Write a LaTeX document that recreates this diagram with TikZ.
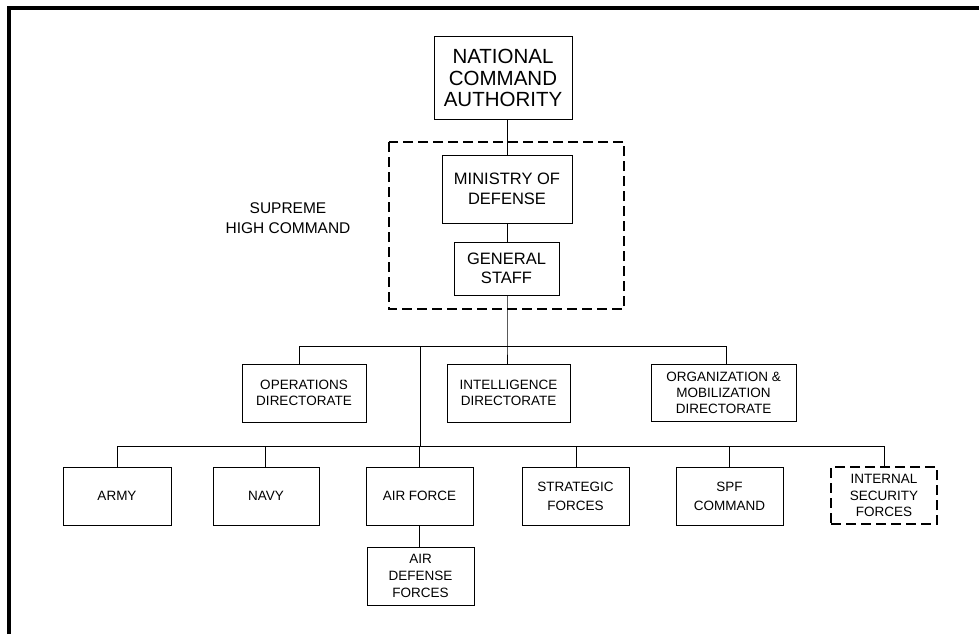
\documentclass[tikz,border=0pt]{standalone}
\usepackage{fontspec}
\setmainfont{Liberation Sans}
\begin{document}
\begin{tikzpicture}[x=1pt,y=-1pt,
  box/.style={draw=black,line width=1pt,inner sep=0pt,align=center,font=\fontsize{13.5}{16}\selectfont},
  dbox/.style={box,line width=2pt,dash pattern=on 10pt off 5pt},
  conn/.style={draw=black,line width=1pt}]
\useasboundingbox (0,0) rectangle (979,634);
\draw[line width=4pt] (9,634) -- (9,8) -- (979,8);
% top
\node[box,minimum width=138pt,minimum height=82pt,font=\fontsize{20.5}{21.7}\selectfont] (nca) at (503,78) {NATIONAL\\COMMAND\\AUTHORITY};
\draw[line width=2pt,dash pattern=on 10pt off 5pt] (389,142) rectangle (624,309);
\node[box,minimum width=130pt,minimum height=68pt,font=\fontsize{16.5}{19.5}\selectfont] (mod) at (507,189) {MINISTRY OF\\DEFENSE};
\node[box,minimum width=105pt,minimum height=53pt,font=\fontsize{16.5}{19.5}\selectfont] (gs) at (506.5,268.5) {GENERAL\\STAFF};
\node[align=center,inner sep=0pt,font=\fontsize{15.5}{20}\selectfont] (shc) at (288,218) {SUPREME\\HIGH COMMAND};
% directorates
\node[box,minimum width=124pt,minimum height=58pt] (op) at (304,393) {OPERATIONS\\DIRECTORATE};
\node[box,minimum width=123pt,minimum height=58pt] (intel) at (508.5,393) {INTELLIGENCE\\DIRECTORATE};
\node[box,minimum width=145pt,minimum height=57pt] (org) at (723.5,392.5) {ORGANIZATION \&\\MOBILIZATION\\DIRECTORATE};
% forces
\node[box,minimum width=108pt,minimum height=58pt] (army) at (117,496) {ARMY};
\node[box,minimum width=106pt,minimum height=58pt] (navy) at (266,496) {NAVY};
\node[box,minimum width=107pt,minimum height=58pt] (af) at (419.5,496) {AIR FORCE};
\node[box,minimum width=107pt,minimum height=58pt,font=\fontsize{13.5}{19.3}\selectfont] (strat) at (575.5,496) {STRATEGIC\\FORCES};
\node[box,minimum width=107pt,minimum height=58pt,font=\fontsize{13.5}{19.3}\selectfont] (spf) at (729.5,496) {SPF\\COMMAND};
\node[dbox,minimum width=106pt,minimum height=57pt,font=\fontsize{13.5}{16.7}\selectfont] (isf) at (884,495.5) {INTERNAL\\SECURITY\\FORCES};
\node[box,minimum width=107pt,minimum height=58pt,font=\fontsize{13.5}{17}\selectfont] (adf) at (420.5,576) {AIR\\DEFENSE\\FORCES};
% bus coordinates
\coordinate (b1l) at (299,346);
\coordinate (b1m) at (507,346);
\coordinate (b1r) at (726,346);
\coordinate (b1a) at (420,346);
\coordinate (b2a) at (420,446);
\coordinate (b2l) at (117,446);
\coordinate (b2r) at (884,446);
% connectors
\draw[conn] (nca.south -| mod.north) -- (mod.north);
\draw[conn] (mod.south -| 507,0) -- (gs.north -| 507,0);
\draw[conn] (gs.south -| 507,0) -- (b1m) -- (intel.north -| b1m);
\draw[conn] (b1l |- op.north) -- (b1l) -- (b1r) -- (b1r |- org.north);
\draw[conn] (b1a) -- (b2a);
\draw[conn] (b2l |- army.north) -- (b2l) -- (b2r) -- (b2r |- isf.north);
\draw[conn] (navy.north -| 265,0) -- (265,446);
\draw[conn] (af.north -| 419,0) -- (419,446);
\draw[conn] (strat.north -| 576,0) -- (576,446);
\draw[conn] (spf.north -| 729,0) -- (729,446);
\draw[conn] (af.south -| 419,0) -- (adf.north -| 419,0);
\end{tikzpicture}
\end{document}
